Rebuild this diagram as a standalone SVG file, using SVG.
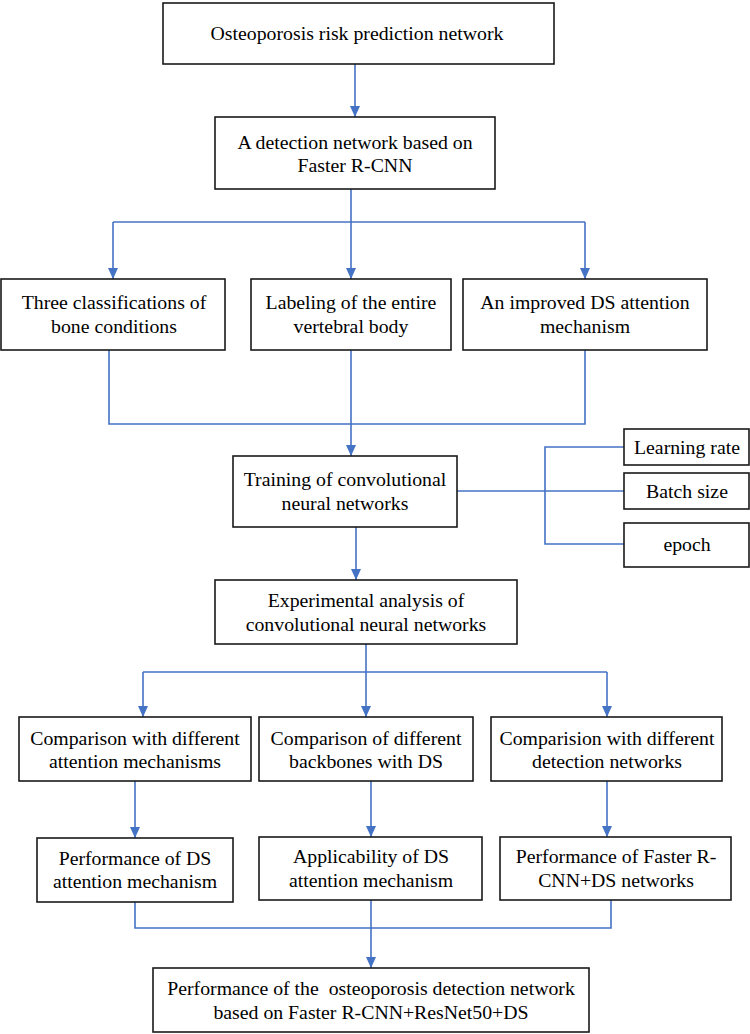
<svg xmlns="http://www.w3.org/2000/svg" width="750" height="1034" viewBox="0 0 750 1034">
<style>
.box{fill:#fff;stroke:#1a1a1a;stroke-width:1.6}
.t{font-family:'Liberation Serif','Times New Roman','DejaVu Serif',serif;font-size:19.8px;fill:#000;text-anchor:middle}
.c{fill:none;stroke:#4472C4;stroke-width:1.6}
.a{marker-end:url(#ah)}
</style>
<defs>
<marker id="ah" markerUnits="userSpaceOnUse" markerWidth="12" markerHeight="12" viewBox="0 0 12 12" refX="11" refY="6" orient="auto">
<path d="M0,1 L11,6 L0,11 Z" fill="#4472C4"/>
</marker>
</defs>
<rect width="750" height="1034" fill="#fff"/>
<g id="connectors">
<line class="c a" x1="355" y1="64" x2="355" y2="117"/>
<polyline class="c" points="351,189 351,222"/>
<polyline class="c a" points="113,222 113,279"/>
<line class="c" x1="113" y1="222" x2="585" y2="222"/>
<line class="c a" x1="351" y1="222" x2="351" y2="279"/>
<polyline class="c a" points="585,222 585,279"/>
<polyline class="c" points="109,350 109,424 585,424 585,350"/>
<line class="c" x1="351" y1="350" x2="351" y2="424"/>
<line class="c a" x1="351" y1="424" x2="351" y2="456"/>
<line class="c" x1="457" y1="491" x2="624" y2="491"/>
<polyline class="c" points="624,447 545,447 545,544 624,544"/>
<line class="c a" x1="356" y1="527" x2="356" y2="580"/>
<line class="c" x1="366" y1="644" x2="366" y2="672"/>
<line class="c" x1="143" y1="672" x2="607" y2="672"/>
<line class="c a" x1="143" y1="672" x2="143" y2="717"/>
<line class="c a" x1="366" y1="672" x2="366" y2="717"/>
<line class="c a" x1="607" y1="672" x2="607" y2="717"/>
<line class="c a" x1="135" y1="781" x2="135" y2="838"/>
<line class="c a" x1="371" y1="781" x2="371" y2="837"/>
<line class="c a" x1="607" y1="781" x2="607" y2="837"/>
<polyline class="c" points="135,902 135,928 611,928 611,900"/>
<line class="c a" x1="371" y1="900" x2="371" y2="968"/>
</g>
<g id="n1"><rect class="box" x="163" y="3" width="391" height="61"/><text class="t" x="357" y="40">Osteoporosis risk prediction network</text></g>
<g id="n2"><rect class="box" x="215" y="117" width="280" height="72"/><text class="t" x="355" y="149">A detection network based on</text><text class="t" x="355" y="172">Faster R-CNN</text></g>
<g id="n3a"><rect class="box" x="1" y="279" width="224" height="71"/><text class="t" x="114" y="309">Three classifications of</text><text class="t" x="114" y="333">bone conditions</text></g>
<g id="n3b"><rect class="box" x="251" y="279" width="200" height="71"/><text class="t" x="351" y="309">Labeling of the entire</text><text class="t" x="351" y="333">vertebral body</text></g>
<g id="n3c"><rect class="box" x="463" y="279" width="244" height="71"/><text class="t" x="585" y="309">An improved DS attention</text><text class="t" x="585" y="333">mechanism</text></g>
<g id="n4"><rect class="box" x="233" y="456" width="224" height="71"/><text class="t" x="345" y="486">Training of convolutional</text><text class="t" x="345" y="510">neural networks</text></g>
<g id="n4a"><rect class="box" x="624" y="429" width="125" height="36"/><text class="t" x="687" y="454">Learning rate</text></g>
<g id="n4b"><rect class="box" x="624" y="473" width="125" height="36"/><text class="t" x="687" y="498">Batch size</text></g>
<g id="n4c"><rect class="box" x="624" y="523" width="125" height="44"/><text class="t" x="687" y="551">epoch</text></g>
<g id="n5"><rect class="box" x="215" y="580" width="302" height="64"/><text class="t" x="366" y="607">Experimental analysis of</text><text class="t" x="366" y="631">convolutional neural networks</text></g>
<g id="n6a"><rect class="box" x="19" y="717" width="232" height="64"/><text class="t" x="135" y="745">Comparison with different</text><text class="t" x="135" y="768">attention mechanisms</text></g>
<g id="n6b"><rect class="box" x="259" y="717" width="214" height="64"/><text class="t" x="366" y="745">Comparison of different</text><text class="t" x="366" y="768">backbones with DS</text></g>
<g id="n6c"><rect class="box" x="491" y="717" width="231" height="64"/><text class="t" x="607" y="745">Comparision with different</text><text class="t" x="607" y="768">detection networks</text></g>
<g id="n7a"><rect class="box" x="37" y="838" width="196" height="64"/><text class="t" x="135" y="865">Performance of DS</text><text class="t" x="135" y="888">attention mechanism</text></g>
<g id="n7b"><rect class="box" x="259" y="837" width="223" height="63"/><text class="t" x="371" y="863">Applicability of DS</text><text class="t" x="371" y="887">attention mechanism</text></g>
<g id="n7c"><rect class="box" x="500" y="837" width="231" height="63"/><text class="t" x="616" y="863">Performance of Faster R-</text><text class="t" x="616" y="887">CNN+DS networks</text></g>
<g id="n8"><rect class="box" x="153" y="968" width="436" height="64"/><text class="t" x="371" y="995" xml:space="preserve">Performance of the  osteoporosis detection network</text><text class="t" x="371" y="1019">based on Faster R-CNN+ResNet50+DS</text></g>
</svg>
